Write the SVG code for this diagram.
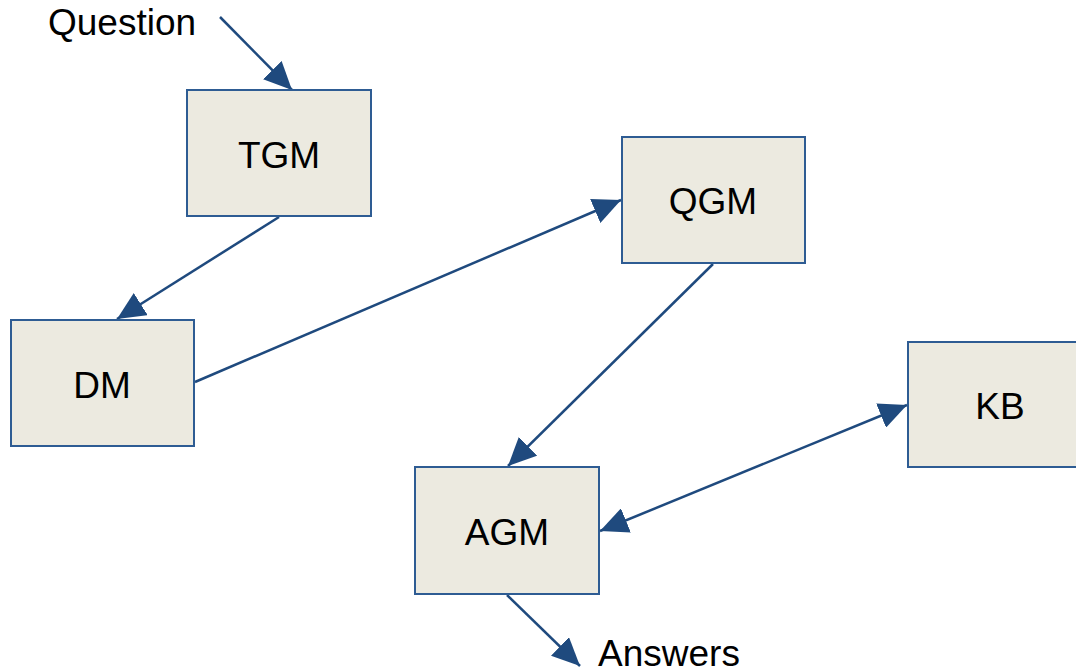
<svg xmlns="http://www.w3.org/2000/svg" width="1076" height="671" viewBox="0 0 1076 671">
<style>
.box{fill:#ECEAE0;stroke:#2E5C93;stroke-width:2}
.lbl{font-family:"Liberation Sans",Arial,sans-serif;font-size:37px;fill:#000;text-anchor:middle}
.free{font-family:"Liberation Sans",Arial,sans-serif;font-size:37px;fill:#000}
.conn{stroke:#1F4A7E;stroke-width:2.5;fill:none;marker-end:url(#ah)}
</style>
<defs>
<marker id="ah" markerUnits="userSpaceOnUse" markerWidth="30" markerHeight="26" refX="28" refY="13" orient="auto-start-reverse">
<path d="M0,0 L28,13 L0,26 z" fill="#1F4A7E"/>
</marker>
</defs>
<rect width="1076" height="671" fill="#fff"/>
<g id="connectors">
<line class="conn" x1="220" y1="17" x2="292" y2="90"/>
<line class="conn" x1="279" y1="217" x2="117" y2="319"/>
<line class="conn" x1="195" y1="382" x2="621" y2="200"/>
<line class="conn" x1="713" y1="264" x2="508" y2="466"/>
<line class="conn" x1="907" y1="405" x2="600" y2="531" style="marker-start:url(#ah)"/>
<line class="conn" x1="507" y1="595" x2="580" y2="666"/>
</g>
<g id="question"><text class="free" x="48" y="35">Question</text></g>
<g id="tgm"><rect class="box" x="187" y="90" width="184" height="126"/><text class="lbl" x="279" y="168">TGM</text></g>
<g id="dm"><rect class="box" x="11" y="320" width="183" height="126"/><text class="lbl" x="102" y="398">DM</text></g>
<g id="qgm"><rect class="box" x="622" y="137" width="183" height="126"/><text class="lbl" x="713" y="214">QGM</text></g>
<g id="agm"><rect class="box" x="415" y="467" width="184" height="127"/><text class="lbl" x="507" y="545">AGM</text></g>
<g id="kb"><rect class="box" x="908" y="342" width="183" height="125"/><text class="lbl" x="1000" y="419">KB</text></g>
<g id="answers"><text class="free" x="598" y="666">Answers</text></g>
</svg>
